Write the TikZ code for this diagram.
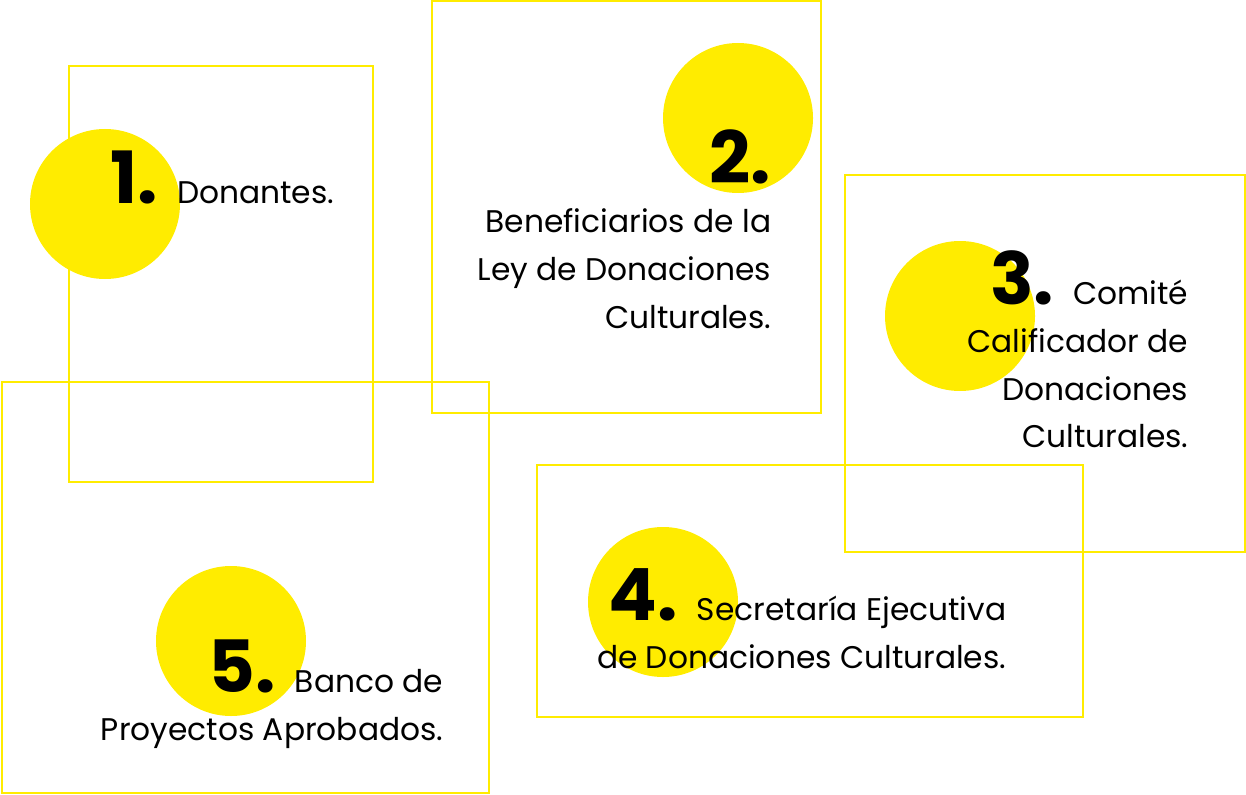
\documentclass[tikz,border=0pt]{standalone}
\usepackage{fontspec}
\setmainfont{Poppins}
\usetikzlibrary{positioning}
\definecolor{amarillo}{HTML}{FFEC00}
\newcommand{\numlbl}[1]{{\fontsize{20.5}{20}\selectfont\bfseries #1}\hspace{5.5pt}}
\tikzset{
  caja/.style={draw=amarillo, line width=0.6pt},
  disco/.style={fill=amarillo},
  linea/.style={anchor=base east, inner sep=0pt, font=\fontsize{8.9}{13.7}\selectfont}
}
\begin{document}
\begin{tikzpicture}[x=0.01cm, y=-0.01cm]
			\useasboundingbox (0,0) rectangle (1246,794);
			% Cajas
			\draw[caja] (69,66) rectangle (373,482);
			\draw[caja] (432,1) rectangle (821,413);
			\draw[caja] (845,175) rectangle (1245,552);
			\draw[caja] (537,465) rectangle (1083,717);
			\draw[caja] (2,382) rectangle (489,793);
			
			% Circulos
			\fill[disco] (105,204) circle (75);
			\fill[disco] (738,118) circle (75);
			\fill[disco] (960,316) circle (75);
			\fill[disco] (663,602) circle (75);
			\fill[disco] (231,641) circle (75);
			
			% 1
			\node[linea] (t1) at (335,203) {\numlbl{1.}Donantes.};
			
			% 2
			\node[linea] (n2) at (772,183) {\numlbl{2.}};
			\node[linea] (t2a) at (772,232) {Beneficiarios de la};
			\node[linea] (t2b) at (772,280) {Ley de Donaciones};
			\node[linea] (t2c) at (772,328) {Culturales.};
			
			% 3
			\node[linea] (t3a) at (1189,304) {\numlbl{3.}Comité};
			\node[linea] (t3b) at (1189,352) {Calificador de};
			\node[linea] (t3c) at (1189,400) {Donaciones};
			\node[linea] (t3d) at (1189,447) {Culturales.};
			
			% 4
			\node[linea] (t4a) at (1007,620) {\numlbl{4.}Secretaría Ejecutiva};
			\node[linea] (t4b) at (1007,668) {de Donaciones Culturales.};
			
			% 5
			\node[linea] (t5a) at (444,692) {\numlbl{5.}Banco de};
			\node[linea] (t5b) at (444,740) {Proyectos Aprobados.};
\end{tikzpicture}
\end{document}
